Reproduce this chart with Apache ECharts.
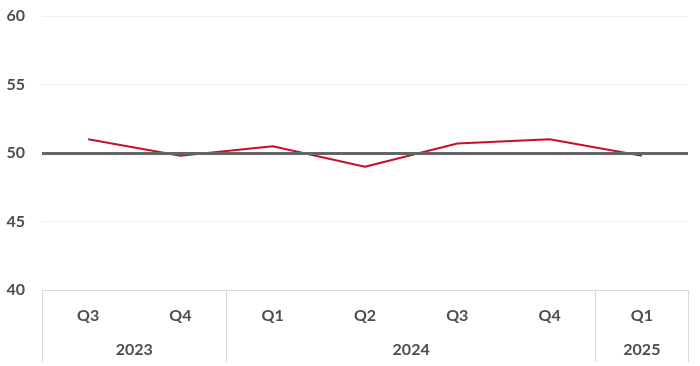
<!DOCTYPE html>
<html>
<head>
<meta charset="utf-8">
<script src="https://cdn.jsdelivr.net/npm/echarts@6/dist/echarts.min.js"></script>
<style>html,body{margin:0;padding:0;background:#fff}#c{width:700px;height:366px}</style>
</head>
<body>
<div id="c"></div>
<script>
const quarters = ['Q3','Q4','Q1','Q2','Q3','Q4','Q1'];
const values = [51.0, 49.8, 50.5, 49.0, 50.7, 51.0, 49.8];
const years = ['2023','2024','2025'];
const yearSpans = [2, 4, 1];
const referenceLevel = 50;
const yTicks = [40, 45, 50, 55, 60];

const bounds = [0];
yearSpans.forEach(s => bounds.push(bounds[bounds.length-1] + s));
const centers = yearSpans.map((s, i) => bounds[i] + s / 2);

const FONT = 'Lato';
const LABEL = '#4d4d4d';
const chart = echarts.init(document.getElementById('c'));
chart.setOption({
  animation: false,
  grid: {left: 42, right: 12, top: 16, bottom: 76},
  xAxis: [{
    type: 'category',
    data: quarters,
    boundaryGap: true,
    axisLine: {lineStyle: {color: '#d9d9d9', width: 1}},
    axisTick: {show: false},
    axisLabel: {color: LABEL, fontFamily: FONT, fontWeight: 'bold', fontSize: 16, margin: 18}
  }, {
    type: 'value',
    position: 'bottom',
    min: 0, max: quarters.length,
    axisLine: {show: false},
    splitLine: {show: false},
    axisTick: {show: true, customValues: bounds, length: 72, lineStyle: {color: '#d9d9d9', width: 1}},
    axisLabel: {
      customValues: centers,
      margin: 52,
      color: LABEL, fontFamily: FONT, fontWeight: 'bold', fontSize: 16,
      formatter: v => { const i = centers.findIndex(c => Math.abs(c - v) < 1e-6); return i >= 0 ? years[i] : ''; }
    }
  }],
  yAxis: {
    type: 'value',
    min: yTicks[0], max: yTicks[yTicks.length-1], interval: 5,
    axisLine: {show: false},
    axisTick: {show: false},
    splitLine: {lineStyle: {color: '#efefef', width: 1}},
    axisLabel: {color: LABEL, fontFamily: FONT, fontWeight: 'bold', fontSize: 16, margin: 17}
  },
  series: [{
    type: 'line',
    data: values,
    xAxisIndex: 0,
    symbol: 'none',
    lineStyle: {color: '#C8102E', width: 2},
    z: 2,
    markLine: {
      silent: true,
      symbol: ['none','none'],
      label: {show: false},
      lineStyle: {color: '#666666', width: 3, type: 'solid'},
      data: [{yAxis: referenceLevel}],
      z: 3
    }
  }]
});
</script>
</body>
</html>
